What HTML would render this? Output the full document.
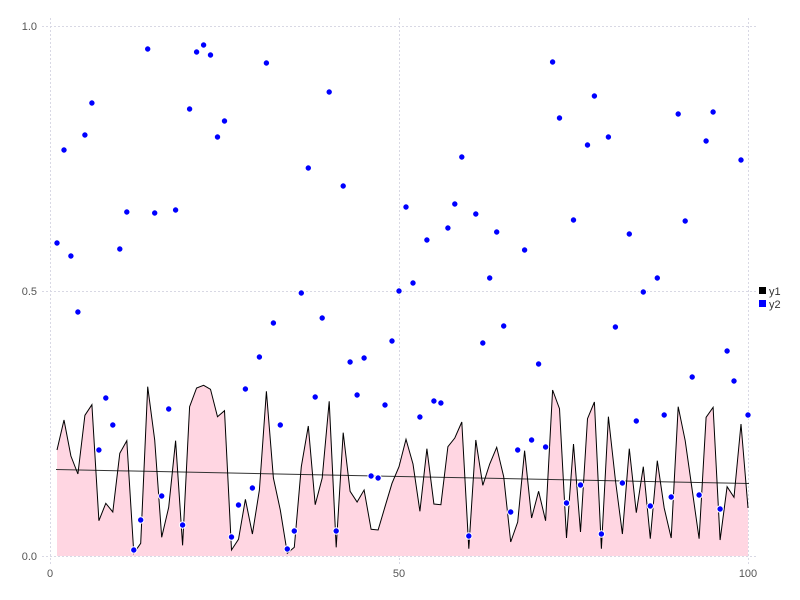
<!DOCTYPE html>
<html><head><meta charset="utf-8"><style>html,body{margin:0;padding:0;background:#fff}svg{display:block}</style></head>
<body>
<svg id="s" width="800" height="600" xmlns="http://www.w3.org/2000/svg" font-family="Liberation Sans, sans-serif">
<g stroke="#d8d8e4" stroke-dasharray="2,2" stroke-width="1">
<line x1="42" y1="26.5" x2="756" y2="26.5"/><line x1="42" y1="291.5" x2="756" y2="291.5"/><line x1="42" y1="556.5" x2="756" y2="556.5"/>
<line x1="50.5" y1="18" x2="50.5" y2="564"/><line x1="399.5" y1="18" x2="399.5" y2="564"/><line x1="748.5" y1="18" x2="748.5" y2="564"/>
</g>
<g fill="#555" font-size="11">
<text x="37" y="30" text-anchor="end">1.0</text><text x="37" y="295" text-anchor="end">0.5</text><text x="37" y="560" text-anchor="end">0.0</text>
<text x="50" y="577" text-anchor="middle">0</text><text x="399" y="577" text-anchor="middle">50</text><text x="748" y="577" text-anchor="middle">100</text>
</g>
<path id="area" fill="#ffd6e2" stroke="none"/>
<line x1="56" y1="469.5" x2="749" y2="483.5" stroke="#333" stroke-width="1"/>
<path id="ln" fill="none" stroke="#000" stroke-width="1"/>
<g id="dots"></g>
<rect x="759" y="287" width="7" height="7" fill="#000"/>
<rect x="759" y="300" width="7" height="7" fill="#00f"/>
<text x="769" y="295" font-size="11" fill="#333">y1</text>
<text x="769" y="308" font-size="11" fill="#333">y2</text>
</svg>
<script>
var z1=[240,150,258,312,136,104,452,400,426,250,212,550,520,50,210,502,412,212,526,110,54,46,58,140,122,540,508,388,492,360,64,324,420,550,532,290,168,404,324,94,532,188,364,396,360,478,480,410,340];
var z2=[290,208,282,424,236,402,404,230,204,156,536,210,346,282,232,320,516,456,242,444,364,452,60,116,504,222,486,146,96,536,140,330,492,236,428,290,506,272,414,504,110,212,360,506,142,112,510,350,382,162,414];
var y1=z1.concat(z2).map(function(z){return 370+z/3;});
var d2=[243,150,256,312,135,103,450,398,425,249,212,550,520,49,213,496,409,210,525,109,52,45,55,137,121,537,505,389,488,357,63,323,425,549,531,293,168,397,318,92,531,186,362,395,358,476,478,405,341,291,207,283,417,240,401,403,228,204,157,536,214,343,278,232,326,512,450,250,440,364,447,62,118,503,220,485,145,96,534,137,327,483,234,421,292,506,278,415,497,114,221,377,495,141,112,509,351,381,160,415];
function X(i){return 50+6.98*i;}
var p="",a="M"+X(1).toFixed(1)+",556";
for(var i=0;i<100;i++){var s=X(i+1).toFixed(1)+","+y1[i].toFixed(1);p+=(i?"L":"M")+s;a+="L"+s;}
a+="L"+X(100).toFixed(1)+",556Z";
document.getElementById("ln").setAttribute("d",p);
document.getElementById("area").setAttribute("d",a);
var g="";for(var i=0;i<100;i++){g+='<circle cx="'+X(i+1).toFixed(1)+'" cy="'+d2[i]+'" r="3.2" fill="#00f" stroke="#fff" stroke-width="1"/>';}
document.getElementById("dots").innerHTML=g;
</script>
</body></html>
